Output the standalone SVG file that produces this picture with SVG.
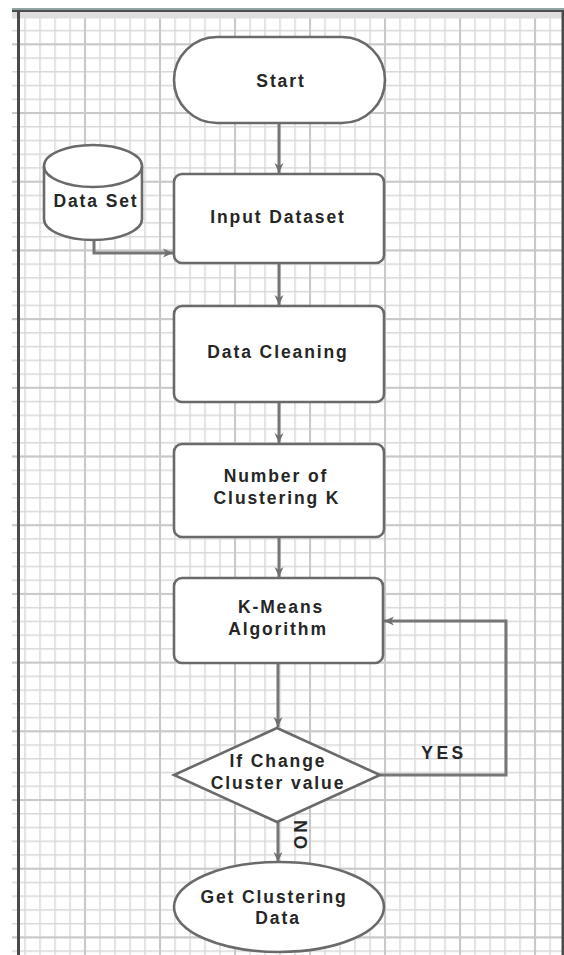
<svg xmlns="http://www.w3.org/2000/svg" width="564" height="955" viewBox="0 0 564 955">
<defs>
<pattern id="gMinor" patternUnits="userSpaceOnUse" x="24.25" y="43.55" width="15" height="13.74">
<rect x="0" y="0" width="1.5" height="13.74" fill="#d9d9d9"/>
<rect x="0" y="0" width="15" height="1.5" fill="#d9d9d9"/>
</pattern>
<pattern id="gMajor" patternUnits="userSpaceOnUse" x="84" y="43.3" width="75" height="68.7">
<rect x="0" y="0" width="2" height="68.7" fill="#c9c9c9"/>
<rect x="0" y="0" width="75" height="2" fill="#c9c9c9"/>
</pattern>
<marker id="arr" markerUnits="userSpaceOnUse" markerWidth="12" markerHeight="12" viewBox="0 0 12 12" refX="11" refY="6" orient="auto">
<path d="M1,1.5 L11,6 L1,10.5 L4,6 Z" fill="#707070"/>
</marker>
<style>
.node{fill:#ffffff;stroke:#6a6a6a;stroke-width:2.6}
.lbl{font-family:"Liberation Sans",Arial,sans-serif;font-weight:bold;font-size:17.5px;letter-spacing:1.9px;fill:#262626;text-anchor:middle}
.conn{fill:none;stroke:#767676;stroke-width:3}
</style>
</defs>
<rect x="0" y="0" width="564" height="955" fill="#ffffff"/>
<g id="grid">
<rect x="12" y="18" width="552" height="937" fill="url(#gMinor)"/>
<rect x="12" y="18" width="552" height="937" fill="url(#gMajor)"/>
<rect x="12" y="11.5" width="552" height="7" fill="#dedede"/>
<rect x="12" y="8" width="552" height="2.5" fill="#8fa3a2"/>
<rect x="12" y="10" width="552" height="2" fill="#4d4d4d"/>
<rect x="17" y="10" width="3" height="945" fill="#4a4a4a"/>
<rect x="561.5" y="10" width="2.5" height="945" fill="#4a4a4a"/>
</g>
<g id="connectors">
<path class="conn" d="M279,123 L279,173" marker-end="url(#arr)"/>
<path class="conn" d="M94,240 L94,253 L173,253" marker-end="url(#arr)"/>
<path class="conn" d="M279,263 L279,305" marker-end="url(#arr)"/>
<path class="conn" d="M279,402 L279,443" marker-end="url(#arr)"/>
<path class="conn" d="M279,537 L279,577" marker-end="url(#arr)"/>
<path class="conn" d="M278,663 L278,727" marker-end="url(#arr)"/>
<path class="conn" d="M380,775 L506,775 L506,621 L384,621" marker-end="url(#arr)"/>
<path class="conn" d="M278,822 L278,862" marker-end="url(#arr)"/>
<text class="lbl" x="444" y="759" style="letter-spacing:3.5px">YES</text>
<text class="lbl" transform="translate(294,836) rotate(90)" x="0" y="0" style="letter-spacing:3px">NO</text>
</g>
<g id="start">
<rect class="node" x="174" y="37" width="211" height="86" rx="43" ry="43"/>
<text class="lbl" x="281" y="87">Start</text>
</g>
<g id="dataset">
<path class="node" d="M44,166 L44,219 A49,21 0 0 0 142,219 L142,166 A49,21 0 0 0 44,166 Z"/>
<path class="node" d="M44,166 A49,21 0 0 0 142,166" fill="none"/>
<text class="lbl" x="96" y="207">Data Set</text>
</g>
<g id="input">
<rect class="node" x="174" y="174" width="210" height="89" rx="8"/>
<text class="lbl" x="278" y="223">Input Dataset</text>
</g>
<g id="cleaning">
<rect class="node" x="174" y="306" width="210" height="96" rx="8"/>
<text class="lbl" x="278" y="358">Data Cleaning</text>
</g>
<g id="numk">
<rect class="node" x="174" y="444" width="210" height="93" rx="8"/>
<text class="lbl" x="276" y="482">Number of</text>
<text class="lbl" x="277" y="504">Clustering K</text>
</g>
<g id="kmeans">
<rect class="node" x="174" y="578" width="209" height="85" rx="8"/>
<text class="lbl" x="281" y="613">K-Means</text>
<text class="lbl" x="278" y="635">Algorithm</text>
</g>
<g id="decision">
<polygon class="node" points="277,728 380,775 277,822 174,775"/>
<text class="lbl" x="278" y="767">If Change</text>
<text class="lbl" x="278" y="789">Cluster value</text>
</g>
<g id="result">
<ellipse class="node" cx="279" cy="907" rx="105" ry="45"/>
<text class="lbl" x="274" y="903">Get Clustering</text>
<text class="lbl" x="278" y="924">Data</text>
</g>
</svg>
